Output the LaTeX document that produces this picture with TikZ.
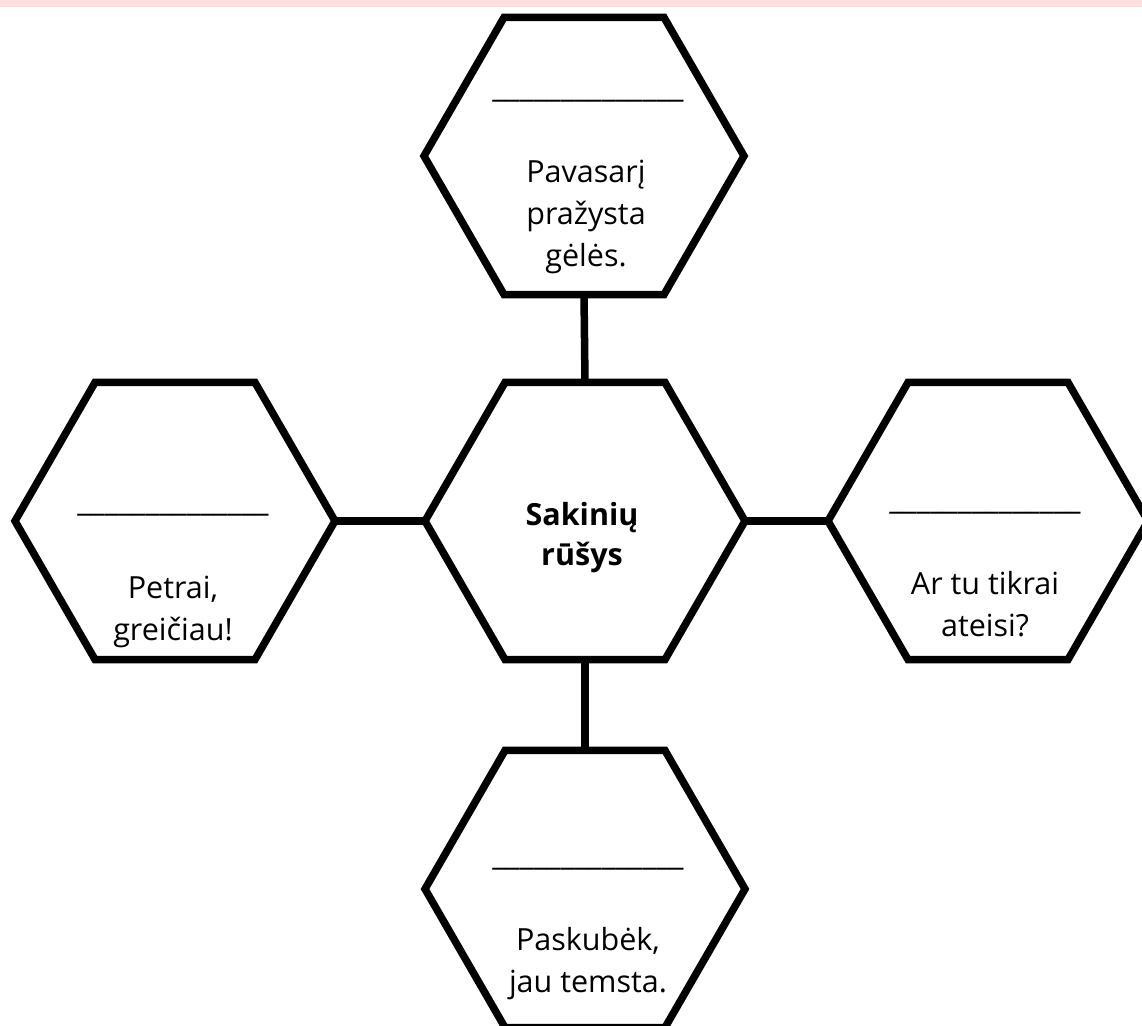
\documentclass[tikz,border=0pt]{standalone}
\usepackage{fontspec}
\setmainfont{Open Sans}
\usetikzlibrary{shapes.geometric}
\definecolor{bandpink}{RGB}{255,222,222}
\begin{document}
\begin{tikzpicture}[x=1pt,y=-1pt,
  hexagon/.style={draw=black, line width=7.5pt, regular polygon, regular polygon sides=6,
    minimum size=320pt, inner sep=0pt, outer sep=0pt, fill=white},
  link/.style={draw=black, line width=7.5pt},
  txt/.style={font=\fontsize{30.5}{42}\selectfont, align=center, anchor=base, inner sep=0pt, text=black},
  boldtxt/.style={txt, font=\fontsize{30.5}{40}\selectfont\bfseries},
  blankline/.style={font=\fontsize{30.5}{42}\selectfont, anchor=base, inner sep=0pt, text=black}]
\useasboundingbox (0,0) rectangle (1142,1025);
\fill[bandpink] (0,0) rectangle (1142,7);
% hexagons
\node[hexagon] (top) at (584,156) {};
\node[hexagon] (mid) at (585,521) {};
\node[hexagon] (left) at (175,521) {};
\node[hexagon] (right) at (988,521) {};
\node[hexagon] (bot) at (585,889) {};
% connectors
\draw[link] (top.south) -- (mid.north);
\draw[link] (mid.south) -- (bot.north);
\draw[link] (left.east) -- (mid.west);
\draw[link] (mid.east) -- (right.west);
% texts (anchor = baseline of the last line)
\node[blankline] (topu) at (588,97) {\_\_\_\_\_\_\_\_\_\_\_\_\_\_};
\node[txt] (topt) at (586,266) {Pavasarį\\pražysta\\gėlės.};
\node[blankline] (leftu) at (173,511) {\_\_\_\_\_\_\_\_\_\_\_\_\_\_};
\node[txt] (leftt) at (173,640) {Petrai,\\greičiau!};
\node[blankline] (rightu) at (985,509) {\_\_\_\_\_\_\_\_\_\_\_\_\_\_};
\node[txt] (rightt) at (985,636) {Ar tu tikrai\\ateisi?};
\node[blankline] (botu) at (588,865) {\_\_\_\_\_\_\_\_\_\_\_\_\_\_};
\node[txt] (bott) at (588,992) {Paskubėk,\\jau temsta.};
\node[boldtxt] (midt) at (582,565) {Sakinių\\rūšys};
\end{tikzpicture}
\end{document}
